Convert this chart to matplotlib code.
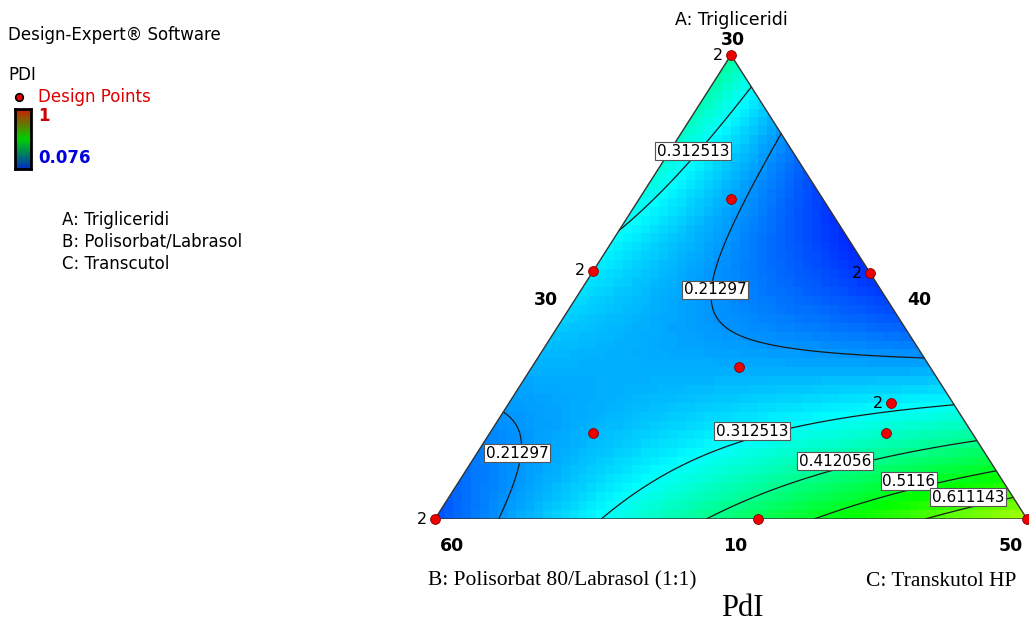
import matplotlib.pyplot as plt
import numpy as np
from matplotlib.colors import LinearSegmentedColormap
from matplotlib.patches import Polygon

# component ranges (actual units), mixture total = 100
a_low, a_high = 10, 30
b_low, b_high = 40, 60
c_low, c_high = 30, 50

# design points (A, B, C) and number of replicates
pt_A = [30, 23.8, 20.7, 20.6, 16.55, 13.7, 15.0, 13.7, 10, 10, 10]
pt_B = [40, 43.1, 49.3, 40, 46.45, 52.8, 42.1, 42.9, 60, 49.1, 40]
pt_C = [30, 33.1, 30, 39.4, 37.0, 33.5, 42.9, 43.4, 30, 40.9, 50]
pt_reps = [2, 1, 2, 2, 1, 1, 2, 1, 2, 1, 1]

# PdI model in pseudo components (estimated from the contour positions)
coef_lin = [0.40, 0.15, 0.70]      # a, b, c
coef_ab, coef_ac, coef_bc, coef_abc = 0.03, -1.69, 0.04, -0.15

levels = [0.21297, 0.312513, 0.412056, 0.5116, 0.611143]
pdi_min, pdi_max = 0.076, 1.0

# contour label boxes (level index, pixel position)
label_pos = [(1, 693, 151), (0, 715, 290), (0, 517, 453), (1, 752, 431),
             (2, 835, 461), (3, 909, 481), (4, 968, 497)]

W, H = 1029, 626


def pix(x, y):
    return x / W, 1 - y / H


def pdi(a, b, c):
    return (coef_lin[0] * a + coef_lin[1] * b + coef_lin[2] * c
            + coef_ab * a * b + coef_ac * a * c + coef_bc * b * c
            + coef_abc * a * b * c)


def to_xy(a, c):
    return c + a / 2, a


fig = plt.figure(figsize=(W / 100, H / 100), dpi=100)
sans = ['DejaVu Sans']
serif = ['Liberation Serif', 'DejaVu Serif']

cmap = LinearSegmentedColormap.from_list(
    'de', ['#0000ff', '#00ffff', '#00ff00', '#ffff00', '#ff0000'])

ax = fig.add_axes([435 / W, (H - 519) / H, 592 / W, 464 / H])
ax.set_xlim(0, 1)
ax.set_ylim(0, 1)
ax.axis('off')

tri = Polygon([[0, 0], [1, 0], [0.5, 1]], closed=True, facecolor='none',
              edgecolor='#333333', lw=1.0, zorder=3)
ax.add_patch(tri)

# coarse colour grid like the original
nx, ny = 66, 52
gx = (np.arange(nx) + 0.5) / nx
gy = (np.arange(ny) + 0.5) / ny
GX, GY = np.meshgrid(gx, gy)
ga = GY
gc = GX - GY / 2
gb = 1 - ga - gc
img = ax.imshow(pdi(ga, gb, gc), extent=[0, 1, 0, 1], origin='lower',
                cmap=cmap, vmin=pdi_min, vmax=pdi_max, interpolation='nearest',
                aspect='auto', zorder=1)
img.set_clip_path(tri)

# contour lines on a fine grid
fx = np.linspace(0, 1, 500)
fy = np.linspace(0, 1, 500)
FX, FY = np.meshgrid(fx, fy)
fa = FY
fc = FX - FY / 2
fb = 1 - fa - fc
Z = pdi(fa, fb, fc)
Z = np.ma.masked_where((fb < -0.002) | (fc < -0.002), Z)
ax.contour(FX, FY, Z, levels=levels, colors='#1a1a1a', linewidths=0.9, zorder=2)

# design points
pa = (np.array(pt_A) - a_low) / (a_high - a_low)
pc = (np.array(pt_C) - c_low) / (c_high - c_low)
px, py = to_xy(pa, pc)
ax.scatter(px, py, s=50, c='#ee0000', edgecolors='#800000', linewidths=0.6,
           zorder=5, clip_on=False)
for x, y, r in zip(px, py, pt_reps):
    if r > 1:
        ax.annotate(str(r), (x, y), xytext=(-8, 0), textcoords='offset pixels',
                    ha='right', va='center', fontsize=11.5, family=sans,
                    annotation_clip=False)

# contour labels
for i, x, y in label_pos:
    fig.text(*pix(x, y), '{:g}'.format(levels[i]), ha='center', va='center',
             fontsize=11, family=sans, zorder=6,
             bbox=dict(boxstyle='square,pad=0.1', fc='white', ec='#555555', lw=0.8))

# axis labels around the triangle
fig.text(*pix(731, 20), 'A: Trigliceridi', ha='center', va='center', fontsize=12.5, family=sans)
num_kw = dict(ha='center', va='center', fontsize=12.5, family=sans, fontweight='bold')
fig.text(*pix(733, 40), str(a_high), **num_kw)
fig.text(*pix(546, 300), str(c_low), **num_kw)
fig.text(*pix(919, 300), str(b_low), **num_kw)
fig.text(*pix(452, 546), str(b_high), **num_kw)
fig.text(*pix(735, 546), str(a_low), **num_kw)
fig.text(*pix(1011, 546), str(c_high), **num_kw)
fig.text(*pix(428, 581), 'B: Polisorbat 80/Labrasol (1:1)', ha='left', va='center',
         fontsize=15.5, family=serif)
fig.text(*pix(1016, 581), 'C: Transkutol HP', ha='right', va='center',
         fontsize=15.5, family=serif)
fig.text(*pix(742, 609), 'PdI', ha='center', va='center', fontsize=22, family=serif)

# left legend block
fs = 12
fig.text(*pix(8, 35), 'Design-Expert® Software', ha='left', va='center', fontsize=fs, family=sans)
fig.text(*pix(8, 75), 'PDI', ha='left', va='center', fontsize=fs, family=sans)
fig.text(*pix(38, 97), 'Design Points', ha='left', va='center', fontsize=fs,
         family=sans, color='#dd0000')
fig.text(*pix(38, 116), '1', ha='left', va='center', fontsize=fs, family=sans,
         color='#cc0000', fontweight='bold')
fig.text(*pix(38, 158), str(pdi_min), ha='left', va='center', fontsize=fs, family=sans,
         color='#0000dd', fontweight='bold')
fig.text(*pix(62, 220), 'A: Trigliceridi', ha='left', va='center', fontsize=fs, family=sans)
fig.text(*pix(62, 242), 'B: Polisorbat/Labrasol', ha='left', va='center', fontsize=fs, family=sans)
fig.text(*pix(62, 264), 'C: Transcutol', ha='left', va='center', fontsize=fs, family=sans)

lax = fig.add_axes([0, 0, 1, 1], facecolor='none')
lax.set_xlim(0, W)
lax.set_ylim(H, 0)
lax.axis('off')
lax.scatter([19], [97], s=30, c='#ee0000', edgecolors='black', linewidths=1.2)

bar = fig.add_axes([15 / W, 1 - 169 / H, 16 / W, 60 / H])
bar_cmap = LinearSegmentedColormap.from_list('bar', ['#0030c0', '#00d000', '#cc2000'])
bar.imshow(np.linspace(0, 1, 50)[:, None], origin='lower', cmap=bar_cmap, aspect='auto')
bar.set_xticks([])
bar.set_yticks([])
for s in bar.spines.values():
    s.set_linewidth(2)

fig.savefig('out.png', dpi=100)
